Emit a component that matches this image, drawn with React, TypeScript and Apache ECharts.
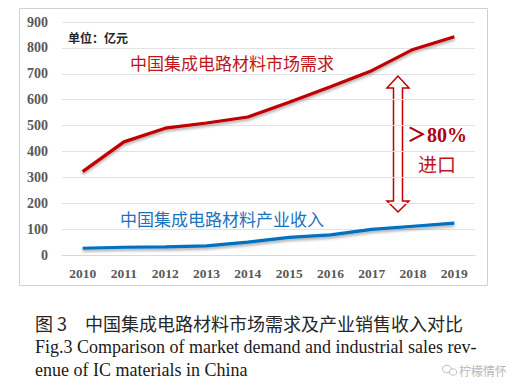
import React, { useEffect, useRef } from "react";
import * as echarts from "echarts";

const years = ["2010", "2011", "2012", "2013", "2014", "2015", "2016", "2017", "2018", "2019"];
const demand = [322, 437, 490, 510, 533, 590, 650, 712, 794, 843];
const revenue = [26, 30, 31, 35, 50, 68, 78, 99, 111, 123];
const yTicks = { min: 0, max: 900, interval: 100 };

const unitLabel = "单位：亿元";
const demandLabel = "中国集成电路材料市场需求";
const revenueLabel = "中国集成电路材料产业收入";
const pctLabel = "＞80%";
const importLabel = "进口";
const captionNo = "图 3";
const captionCn = "中国集成电路材料市场需求及产业销售收入对比";
const captionEn1 = "Fig.3 Comparison of market demand and industrial sales rev-";
const captionEn2 = "enue of IC materials in China";
const watermark = "柠檬情怀";

const SERIF = "'Liberation Serif', 'Times New Roman', serif";
const CJK = "'Noto Sans CJK SC', sans-serif";

export default function App() {
  const ref = useRef<HTMLDivElement>(null);
  useEffect(() => {
    document.body.style.margin = "0";
    const chart = echarts.init(ref.current!, null, { renderer: "svg" });
    const cx = 398;
    const arrowPts = [
      [cx, 76], [cx - 11, 88], [cx - 4.5, 88], [cx - 4.5, 201], [cx - 11, 201],
      [cx, 212], [cx + 11, 201], [cx + 4.5, 201], [cx + 4.5, 88], [cx + 11, 88],
    ];
    chart.setOption({
      animation: false,
      backgroundColor: "#ffffff",
      grid: { left: 62, right: 31, top: 22, bottom: 137, containLabel: false },
      xAxis: {
        type: "category",
        data: years,
        boundaryGap: true,
        axisLine: { show: true, lineStyle: { color: "#d9d9d9", width: 1 } },
        axisTick: { show: false },
        axisLabel: { color: "#595959", fontFamily: SERIF, fontWeight: "bold", fontSize: 13.5, margin: 11 },
      },
      yAxis: {
        type: "value",
        min: yTicks.min,
        max: yTicks.max,
        interval: yTicks.interval,
        axisLine: { show: false },
        axisTick: { show: false },
        splitLine: { lineStyle: { color: "#e3e3e3", width: 1 } },
        axisLabel: { color: "#595959", fontFamily: SERIF, fontWeight: "bold", fontSize: 14, margin: 14 },
      },
      series: [
        {
          type: "line",
          data: demand,
          symbol: "none",
          lineStyle: { color: "#c00000", width: 3.2, shadowColor: "rgba(0,0,0,0.35)", shadowBlur: 3, shadowOffsetY: 2 },
        },
        {
          type: "line",
          data: revenue,
          symbol: "none",
          lineStyle: { color: "#0070c0", width: 3.2, shadowColor: "rgba(0,0,0,0.35)", shadowBlur: 3, shadowOffsetY: 2 },
        },
      ],
      graphic: [
        { type: "rect", shape: { x: 19.5, y: 8.5, width: 468, height: 277 }, style: { fill: "none", stroke: "#d0d0d0", lineWidth: 1 }, z: -1 },
        { type: "text", x: 68, y: 37, style: { text: unitLabel, font: `bold 12px ${CJK}`, fill: "#262626", verticalAlign: "middle" } },
        { type: "text", x: 130, y: 62, style: { text: demandLabel, font: `17px ${CJK}`, fill: "#c0141b", verticalAlign: "middle" } },
        { type: "text", x: 120, y: 218, style: { text: revenueLabel, font: `17px ${CJK}`, fill: "#1b72bf", verticalAlign: "middle" } },
        { type: "polygon", shape: { points: arrowPts }, style: { fill: "#ffffff", stroke: "#c00000", lineWidth: 1.5 } },
        { type: "text", x: 437, y: 135, style: { text: pctLabel, font: `bold 20px ${SERIF}, ${CJK}`, fill: "#b00010", align: "center", verticalAlign: "middle" } },
        { type: "text", x: 437, y: 163, style: { text: importLabel, font: `19px ${CJK}`, fill: "#c0141b", align: "center", verticalAlign: "middle" } },
        { type: "text", x: 35, y: 323, style: { text: captionNo, font: `18px ${CJK}`, fill: "#262626", verticalAlign: "middle" } },
        { type: "text", x: 85, y: 323, style: { text: captionCn, font: `18px ${CJK}`, fill: "#262626", verticalAlign: "middle" } },
        { type: "text", x: 35, y: 347, style: { text: captionEn1, font: `18px ${SERIF}`, fill: "#1a1a1a", verticalAlign: "middle" } },
        { type: "text", x: 35, y: 370, style: { text: captionEn2, font: `18px ${SERIF}`, fill: "#1a1a1a", verticalAlign: "middle" } },
        { type: "ellipse", shape: { cx: 447, cy: 369, rx: 4.5, ry: 3.8 }, style: { fill: "#ffffff", stroke: "#bdbdbd", lineWidth: 1 } },
        { type: "ellipse", shape: { cx: 453, cy: 372, rx: 3.8, ry: 3.2 }, style: { fill: "#ffffff", stroke: "#bdbdbd", lineWidth: 1 } },
        { type: "text", x: 459, y: 370, style: { text: watermark, font: `12px ${CJK}`, fill: "#b8b8b8", verticalAlign: "middle" } },
      ],
    });
    return () => chart.dispose();
  }, []);
  return <div ref={ref} style={{ width: 506, height: 392 }} />;
}
